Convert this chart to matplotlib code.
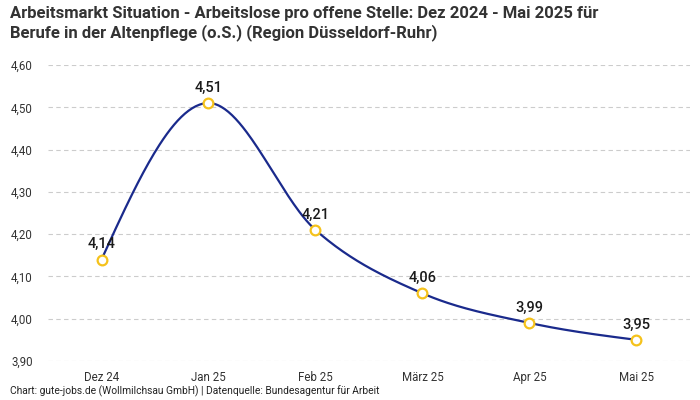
import numpy as np
import matplotlib
matplotlib.use("Agg")
import matplotlib.pyplot as plt

plt.rcParams['font.family'] = ['Roboto', 'DejaVu Sans']

months = ["Dez 24", "Jan 25", "Feb 25", "März 25", "Apr 25", "Mai 25"]
values = [4.14, 4.51, 4.21, 4.06, 3.99, 3.95]
yticks = [3.90, 4.00, 4.10, 4.20, 4.30, 4.40, 4.50, 4.60]

title = ("Arbeitsmarkt Situation - Arbeitslose pro offene Stelle: Dez 2024 - Mai 2025 für\n"
         "Berufe in der Altenpflege (o.S.) (Region Düsseldorf-Ruhr)")
footer = "Chart: gute-jobs.de (Wollmilchsau GmbH) | Datenquelle: Bundesagentur für Arbeit"


def monotone_x(xs, ys, n=60):
    # d3 curveMonotoneX style smoothing
    xs = np.asarray(xs, float)
    ys = np.asarray(ys, float)
    k = len(xs)
    h = np.diff(xs)
    s = np.diff(ys) / h
    t = np.zeros(k)
    for i in range(1, k - 1):
        p = (s[i - 1] * h[i] + s[i] * h[i - 1]) / (h[i - 1] + h[i])
        t[i] = (np.sign(s[i - 1]) + np.sign(s[i])) * min(abs(s[i - 1]), abs(s[i]), 0.5 * abs(p))
    t[0] = (3 * s[0] - t[1]) / 2
    t[-1] = (3 * s[-1] - t[-2]) / 2
    px, py = [], []
    u = np.linspace(0, 1, n)
    for i in range(k - 1):
        dx = h[i] / 3
        x0, x1, x2, x3 = xs[i], xs[i] + dx, xs[i + 1] - dx, xs[i + 1]
        y0, y1, y2, y3 = ys[i], ys[i] + dx * t[i], ys[i + 1] - dx * t[i + 1], ys[i + 1]
        b = [(1 - u) ** 3, 3 * (1 - u) ** 2 * u, 3 * (1 - u) * u ** 2, u ** 3]
        px.append(b[0] * x0 + b[1] * x1 + b[2] * x2 + b[3] * x3)
        py.append(b[0] * y0 + b[1] * y1 + b[2] * y2 + b[3] * y3)
    return np.concatenate(px), np.concatenate(py)


fig = plt.figure(figsize=(7, 4), dpi=100)
ax = fig.add_axes([0.0686, 0.0975, 0.917, 0.74])

x = np.arange(len(months))
cx, cy = monotone_x(x, values)
ax.plot(cx, cy, color='#1a2a8c', lw=1.6, zorder=3)
ax.plot(x, values, 'o', ms=7, mfc='white', mec='#f5c21b', mew=1.6, zorder=4)

for xi, v in zip(x, values):
    ax.annotate(f"{v:.2f}".replace('.', ','), (xi, v), xytext=(0, 6),
                textcoords='offset points', ha='center', va='bottom',
                fontsize=10.5, fontweight='medium', color='#1a1a1a')

ax.set_xlim(-0.5, len(months) - 0.5)
ax.set_ylim(3.9, 4.6)
ax.set_xticks(x)
ax.set_xticklabels(months)
ax.set_yticks(yticks)
ax.set_yticklabels([f"{v:.2f}".replace('.', ',') for v in yticks])
ax.tick_params(axis='both', length=0, labelsize=8.3, colors='#333333')
ax.tick_params(axis='y', pad=11)
ax.tick_params(axis='x', pad=7)
ax.grid(axis='y', color='#cccccc', ls=(0, (4, 3)), lw=0.8)
for sp in ax.spines.values():
    sp.set_visible(False)

fig.text(0.014, 0.985, title, ha='left', va='top', fontsize=12, fontweight='bold',
         color='#333333', linespacing=1.25)
fig.text(0.014, 0.008, footer, ha='left', va='bottom', fontsize=7.4, color='#222222')

fig.savefig("out.png", dpi=100)
